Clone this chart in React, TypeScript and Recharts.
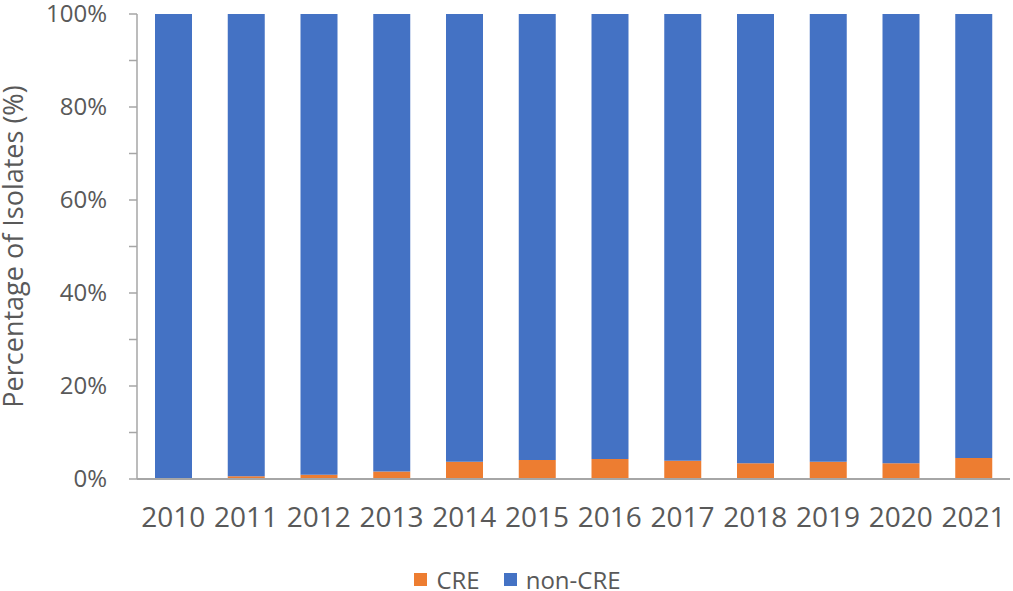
import React from "react";
import { BarChart, Bar, XAxis, YAxis, Legend } from "recharts";

const years = ["2010", "2011", "2012", "2013", "2014", "2015", "2016", "2017", "2018", "2019", "2020", "2021"];
const creValues = [0.2, 0.6, 0.9, 1.6, 3.7, 4.1, 4.3, 3.9, 3.4, 3.7, 3.4, 4.5];
const nonCreValues = [99.8, 99.4, 99.1, 98.4, 96.3, 95.9, 95.7, 96.1, 96.6, 96.3, 96.6, 95.5];
const yTicks = [0, 10, 20, 30, 40, 50, 60, 70, 80, 90, 100];

const data = years.map((y, i) => ({ year: y, CRE: creValues[i], nonCRE: nonCreValues[i] }));

const FONT = "'Open Sans', 'Segoe UI', sans-serif";
const TEXT = "#595959";
const AXIS = "#a6a6a6";

const YTick = (props: any) => {
  const { x, y, payload } = props;
  if (payload.value % 20 !== 0) return null;
  return (
    <text x={x - 20} y={y} dy={8} textAnchor="end" fill={TEXT} fontSize={24} fontFamily={FONT}>
      {payload.value}%
    </text>
  );
};

const XTick = (props: any) => {
  const { x, y, payload } = props;
  return (
    <text x={x} y={y} dy={40} textAnchor="middle" fill={TEXT} fontSize={28} fontFamily={FONT}>
      {payload.value}
    </text>
  );
};

const LegendContent = (props: any) => {
  const { payload } = props;
  return (
    <div
      style={{
        display: "flex",
        justifyContent: "center",
        alignItems: "center",
        fontFamily: FONT,
        fontSize: 24,
        lineHeight: "23px",
        height: 23,
        color: TEXT,
        paddingLeft: 22,
      }}
    >
      {(payload || []).map((p: any, i: number) => (
        <div key={i} style={{ display: "flex", alignItems: "center", marginLeft: i === 0 ? 0 : 24 }}>
          <div style={{ width: 13, height: 13, background: p.color, marginRight: 9 }} />
          <span>{p.value}</span>
        </div>
      ))}
    </div>
  );
};

export default function App() {
  return (
    <div style={{ position: "absolute", left: 0, top: 0, width: 1013, height: 591, background: "#fff" }}>
      <BarChart
        width={1013}
        height={591}
        data={data}
        margin={{ top: 14, right: 3, left: 0, bottom: 0 }}
        barSize={37}
      >
        <XAxis
          dataKey="year"
          tick={<XTick />}
          tickLine={false}
          axisLine={{ stroke: AXIS, strokeWidth: 2 }}
          height={89}
          interval={0}
        />
        <YAxis
          domain={[0, 100]}
          ticks={yTicks}
          interval={0}
          tick={<YTick />}
          tickLine={{ stroke: AXIS, strokeWidth: 1.5 }}
          tickSize={8}
          axisLine={{ stroke: AXIS, strokeWidth: 1.5 }}
          width={137}
          label={{
            value: "Percentage of Isolates (%)",
            angle: -90,
            position: "insideLeft",
            offset: 13,
            style: { textAnchor: "middle", fill: TEXT, fontSize: 27, fontFamily: FONT },
          }}
        />
        <Legend
          verticalAlign="bottom"
          height={23}
          content={<LegendContent />}
          wrapperStyle={{ top: 568, bottom: "auto", left: 0, width: 1013, height: 23 }}
        />
        <Bar dataKey="CRE" name="CRE" stackId="a" fill="#ED7D31" isAnimationActive={false} />
        <Bar dataKey="nonCRE" name="non-CRE" stackId="a" fill="#4472C4" isAnimationActive={false} />
      </BarChart>
    </div>
  );
}
